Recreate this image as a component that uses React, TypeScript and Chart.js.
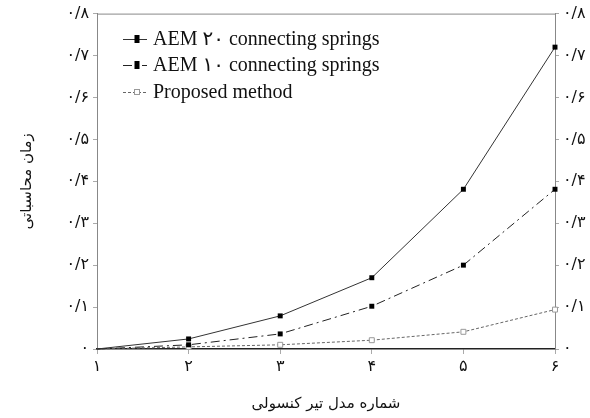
import React, { useEffect, useRef } from "react";
import { Chart, registerables } from "chart.js";

Chart.register(...registerables);

const categories = ["۱", "۲", "۳", "۴", "۵", "۶"];
const yTickLabels = ["۰", "۰/۱", "۰/۲", "۰/۳", "۰/۴", "۰/۵", "۰/۶", "۰/۷", "۰/۸"];
const aem20 = [0, 0.024, 0.079, 0.17, 0.381, 0.72];
const aem10 = [0, 0.01, 0.036, 0.102, 0.2, 0.381];
const proposed = [0, 0.005, 0.01, 0.021, 0.041, 0.094];
const seriesLabels = ["AEM ۲۰ connecting springs", "AEM ۱۰ connecting springs", "Proposed method"];
const xTitle = "شماره مدل تیر کنسولی";
const yTitle = "زمان محاسباتی";

const tickFont = { family: "'DejaVu Sans'", size: 16 };
const titleFont = { family: "'DejaVu Sans'", size: 15 };

const framePlugin = {
  id: "frame",
  afterDraw(chart: any) {
    const { ctx, chartArea } = chart;
    ctx.save();
    ctx.strokeStyle = "#888";
    ctx.lineWidth = 1;
    ctx.beginPath();
    ctx.moveTo(chartArea.left, chartArea.top + 0.5);
    ctx.lineTo(chartArea.right, chartArea.top + 0.5);
    ctx.stroke();
    ctx.restore();
  },
};

const legendPlugin = {
  id: "innerLegend",
  afterDraw(chart: any) {
    const { ctx, chartArea } = chart;
    const x0 = chartArea.left + 26;
    const y0 = chartArea.top + 25;
    const rowH = 26.5;
    ctx.save();
    chart.data.datasets.forEach((ds: any, i: number) => {
      const y = Math.round(y0 + i * rowH);
      ctx.strokeStyle = ds.borderColor;
      ctx.lineWidth = ds.borderWidth;
      ctx.setLineDash(ds.borderDash || []);
      ctx.beginPath();
      ctx.moveTo(x0, y + 0.5);
      ctx.lineTo(x0 + 24, y + 0.5);
      ctx.stroke();
      ctx.setLineDash([]);
      const s = ds.legendMarker;
      const mx = x0 + 14;
      if (ds.pointBackgroundColor === "#fff") {
        ctx.fillStyle = "#fff";
        ctx.fillRect(mx - s / 2, y - s / 2, s, s);
        ctx.strokeStyle = ds.pointBorderColor;
        ctx.strokeRect(mx - s / 2 + 0.5, y - s / 2 + 0.5, s - 1, s - 1);
      } else {
        ctx.fillStyle = ds.pointBackgroundColor;
        ctx.fillRect(mx - s / 2 + 1.5, y - s / 2, s - 3, s);
      }
      ctx.fillStyle = "#111";
      ctx.font = "20px 'Liberation Serif', 'DejaVu Sans'";
      ctx.textBaseline = "middle";
      ctx.textAlign = "left";
      ctx.fillText(ds.label, x0 + 30, y + 1);
    });
    ctx.restore();
  },
};

export default function App() {
  const ref = useRef<HTMLCanvasElement | null>(null);
  useEffect(() => {
    document.body.style.margin = "0";
    const radius = (r: number) => (c: any) => (c.dataIndex === 0 ? 0 : r);
    const chart = new Chart(ref.current as HTMLCanvasElement, {
      type: "line",
      data: {
        labels: categories,
        datasets: [
          {
            label: seriesLabels[0],
            data: aem20,
            borderColor: "#333",
            borderWidth: 1,
            pointStyle: "rect",
            pointRadius: radius(3.5),
            pointBackgroundColor: "#000",
            pointBorderColor: "#000",
            pointBorderWidth: 0,
            legendMarker: 8,
          } as any,
          {
            label: seriesLabels[1],
            data: aem10,
            borderColor: "#222",
            borderWidth: 1,
            borderDash: [9, 4, 2, 4],
            pointStyle: "rect",
            pointRadius: radius(3.5),
            pointBackgroundColor: "#000",
            pointBorderColor: "#000",
            pointBorderWidth: 0,
            legendMarker: 8,
          } as any,
          {
            label: seriesLabels[2],
            data: proposed,
            borderColor: "#666",
            borderWidth: 1,
            borderDash: [3, 2],
            pointStyle: "rect",
            pointRadius: radius(3.5),
            pointBackgroundColor: "#fff",
            pointBorderColor: "#999",
            pointBorderWidth: 1,
            legendMarker: 6,
          } as any,
        ],
      },
      options: {
        animation: false,
        responsive: false,
        devicePixelRatio: 1,
        layout: { padding: { top: 13, left: 0, right: 0, bottom: 0 } },
        plugins: { legend: { display: false }, tooltip: { enabled: false } },
        elements: { line: { tension: 0 } },
        datasets: { line: { clip: false as any } },
        scales: {
          x: {
            type: "category",
            offset: false,
            grid: { drawOnChartArea: false, tickLength: 5, color: "#aaa" },
            border: { color: "#222", width: 1.5 },
            ticks: { font: tickFont, color: "#111", padding: 3, maxRotation: 0 },
            title: { display: true, text: xTitle, font: titleFont, color: "#111", padding: { top: 0, bottom: 5 } },
            afterFit: (s: any) => { s.height = 69; },
          },
          y: {
            position: "left",
            min: 0,
            max: 0.8,
            ticks: { stepSize: 0.1, font: tickFont, color: "#111", padding: 4, callback: (_v: any, i: number) => yTickLabels[i] },
            grid: { drawOnChartArea: false, tickLength: 4, color: "#aaa" },
            border: { color: "#888", width: 1 },
            title: { display: true, text: yTitle, font: titleFont, color: "#111", padding: { top: 18, bottom: 0 } },
            afterFit: (s: any) => { s.width = 97; },
          },
          y2: {
            position: "right",
            min: 0,
            max: 0.8,
            ticks: { stepSize: 0.1, font: tickFont, color: "#111", padding: 4, callback: (_v: any, i: number) => yTickLabels[i] },
            grid: { drawOnChartArea: false, tickLength: 4, color: "#aaa" },
            border: { color: "#888", width: 1 },
            afterFit: (s: any) => { s.width = 35; },
          },
        },
      } as any,
      plugins: [framePlugin, legendPlugin],
    });
    return () => chart.destroy();
  }, []);
  return (
    <div style={{ width: 590, height: 418, background: "#fff" }}>
      <canvas ref={ref} width={590} height={418} style={{ width: 590, height: 418, display: "block" }} />
    </div>
  );
}
